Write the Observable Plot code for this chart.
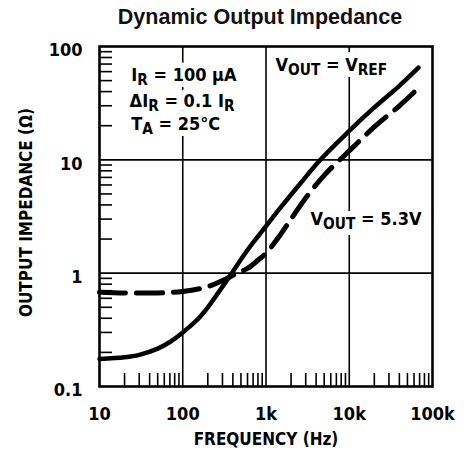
<!DOCTYPE html>
<html>
<head>
<meta charset="utf-8">
<script src="https://cdn.jsdelivr.net/npm/d3@7"></script>
<script src="https://cdn.jsdelivr.net/npm/@observablehq/plot@0.6"></script>
<style>
  body { margin: 0; background: white; }
  #title { height: 23px; padding-top: 7px; line-height: 21px; margin-left: 56px; width: 408px; text-align: center;
           font-family: "Liberation Sans", Arial, sans-serif; font-weight: bold; font-size: 21.5px; color: #111; }
</style>
</head>
<body>
<div id="title">Dynamic Output Impedance</div>
<div id="chart"></div>
<script>
// ---- data ----
const freqSolid = [10, 20, 30, 50, 70, 100, 150, 200, 270, 370, 600, 1000, 1500, 2500, 4500, 10000, 20000, 40000, 68000];
const zSolid    = [0.175, 0.181, 0.19, 0.216, 0.247, 0.3, 0.39, 0.5, 0.68, 0.95, 1.6, 2.6, 3.8, 6, 10, 18, 29, 45, 65];
const freqDash  = [10, 20, 50, 100, 200, 300, 450, 600, 800, 1000, 1500, 2000, 3000, 5000, 10000, 20000, 40000, 68000];
const zDash     = [0.68, 0.67, 0.67, 0.69, 0.76, 0.86, 1.0, 1.1, 1.3, 1.5, 2.2, 3.0, 4.6, 7.3, 12, 19.5, 30, 43];
const xTicks = [10, 100, 1000, 10000, 100000];
const xTickLabels = ["10", "100", "1k", "10k", "100k"];
const yTicks = [0.1, 1, 10, 100];
const yTickLabels = ["0.1", "1", "10", "100"];
const xGrid = [100, 1000, 10000];
const yGrid = [1, 10];
const annoText = ["I_{R} = 100 μA", "ΔI_{R} = 0.1 I_{R}", "T_{A} = 25°C", "V_{OUT} = V_{REF}", "V_{OUT} = 5.3V"];
const annoX = [24, 23, 24, 1300, 3430];
const annoY = [56, 33, 20.5, 69, 2.97];
const xLabel = "FREQUENCY (Hz)";
const yLabel = "OUTPUT IMPEDANCE (Ω)";

// ---- derived tables ----
const solid = freqSolid.map((f, i) => ({f, z: zSolid[i]}));
const dashed = freqDash.map((f, i) => ({f, z: zDash[i]}));
const annos = annoText.map((t, i) => ({t, x: annoX[i], y: annoY[i]}));
const minorOf = (decades) => decades.flatMap(d => [2,3,4,5,6,7,8,9].map(k => k * d));
const xMinor = minorOf([10, 100, 1000, 10000]);
const yMinor = minorOf([0.1, 1, 10]);

const font = '"DejaVu Sans Condensed", "DejaVu Sans", sans-serif';
const annoOpts = {x: "x", y: "y", text: "t", textAnchor: "start", fontSize: 18, fontWeight: "bold"};

const chart = Plot.plot({
  width: 464,
  height: 432,
  marginTop: 16,
  marginBottom: 76,
  marginLeft: 99,
  marginRight: 32,
  style: {fontFamily: font, fontWeight: "bold", fontSize: "18px", color: "black", background: "white", fontStretch: "condensed"},
  x: {type: "log", domain: [10, 100000], axis: null},
  y: {type: "log", domain: [0.1, 100], axis: null},
  marks: [
    Plot.gridX(xGrid, {stroke: "black", strokeOpacity: 1, strokeWidth: 1.6}),
    Plot.gridY(yGrid, {stroke: "black", strokeOpacity: 1, strokeWidth: 1.6}),
    Plot.axisX(xMinor, {anchor: "bottom", tickSize: -13, strokeWidth: 1.6, tickFormat: () => "", label: null}),
    Plot.axisY(yMinor, {anchor: "left", tickSize: -13, strokeWidth: 1.6, tickFormat: () => "", label: null}),
    // white halo layer under the annotations (masks the grid lines)
    Plot.text(annos, {...annoOpts, fill: "white", stroke: "white", strokeWidth: 12, strokeLinejoin: "round"}),
    Plot.text(annos, {...annoOpts, fill: "black"}),
    Plot.line(solid, {x: "f", y: "z", stroke: "black", strokeWidth: 4.5, curve: "catmull-rom"}),
    Plot.line(dashed, {x: "f", y: "z", stroke: "black", strokeWidth: 5, strokeDasharray: "26,11", curve: "catmull-rom"}),
    Plot.frame({stroke: "black", strokeWidth: 2.6}),
    Plot.axisX(xTicks, {anchor: "bottom", tickSize: 0, tickPadding: 21, fontSize: 18,
                        tickFormat: d => xTickLabels[xTicks.indexOf(d)], label: null}),
    Plot.axisY(yTicks, {anchor: "left", tickSize: 0, tickPadding: 17, dy: 4, fontSize: 18,
                        tickFormat: d => yTickLabels[yTicks.indexOf(d)], label: null}),
    Plot.text([xLabel], {frameAnchor: "bottom", dy: 58, fontSize: 17, fontWeight: "bold"}),
    Plot.text([yLabel], {frameAnchor: "left", textAnchor: "middle", dx: -73, dy: -4, rotate: -90, fontSize: 17, fontWeight: "bold"})
  ]
});

// turn _{...} markers into lowered subscript tspans
chart.querySelectorAll("text").forEach(t => {
  const s = t.textContent;
  if (!s.includes("_{")) return;
  t.textContent = "";
  let shifted = false;
  s.split(/(_\{[^}]*\})/).filter(p => p.length).forEach(part => {
    const ts = document.createElementNS("http://www.w3.org/2000/svg", "tspan");
    if (part.startsWith("_{")) {
      ts.textContent = part.slice(2, -1);
      ts.setAttribute("font-size", "85%");
      ts.setAttribute("dy", "4");
      shifted = true;
    } else {
      ts.textContent = part;
      if (shifted) { ts.setAttribute("dy", "-4"); shifted = false; }
    }
    t.appendChild(ts);
  });
});

document.getElementById("chart").appendChild(chart);
</script>
</body>
</html>
